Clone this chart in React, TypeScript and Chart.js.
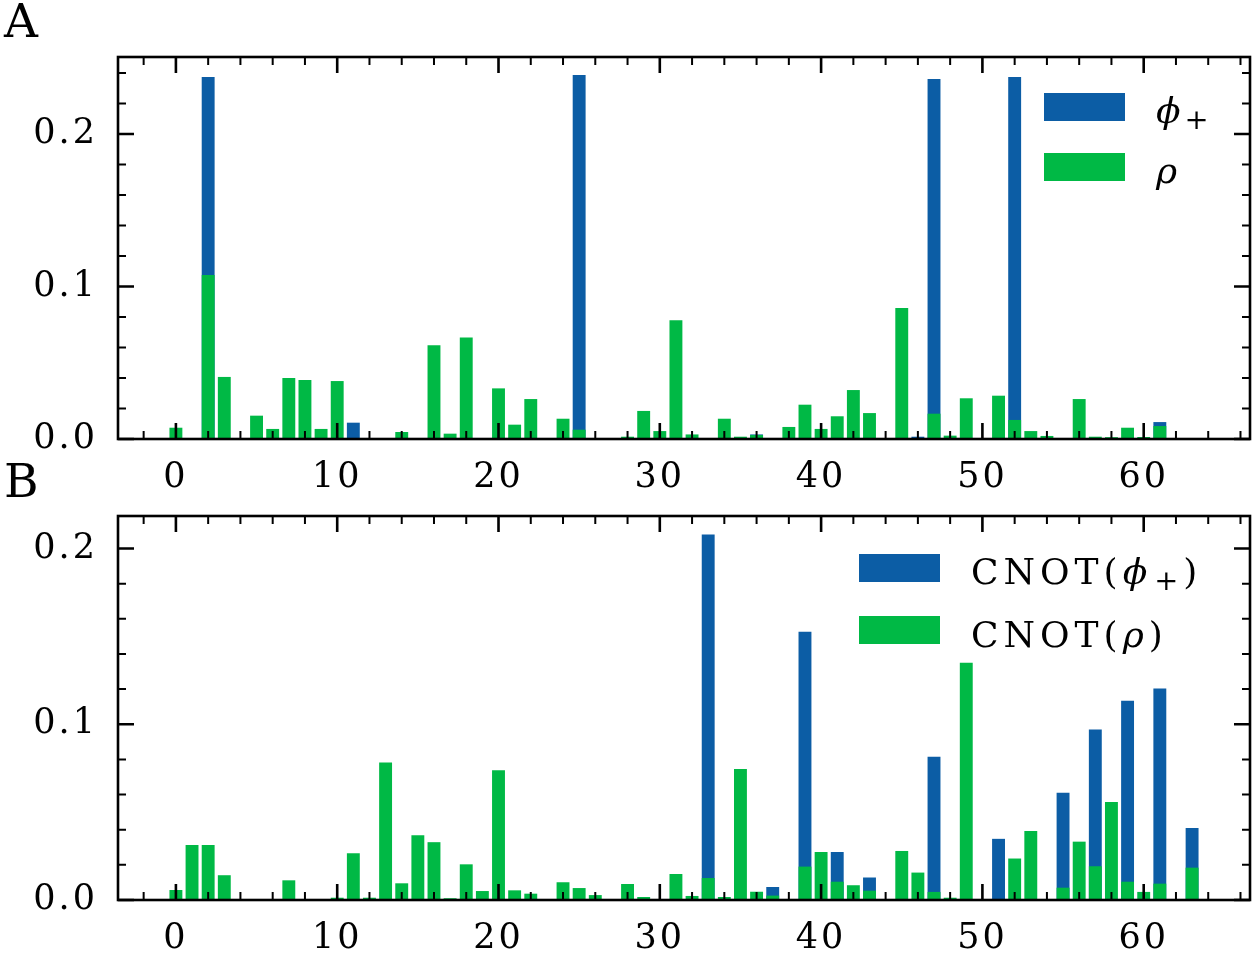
import React, { useEffect, useRef } from "react";
import { Chart, registerables } from "chart.js";

Chart.register(...registerables);

// categories: basis-state index 0..63
const categories: number[] = [
  0, 1, 2, 3, 4, 5, 6, 7, 8, 9, 10, 11, 12, 13, 14, 15,
  16, 17, 18, 19, 20, 21, 22, 23, 24, 25, 26, 27, 28, 29, 30, 31,
  32, 33, 34, 35, 36, 37, 38, 39, 40, 41, 42, 43, 44, 45, 46, 47,
  48, 49, 50, 51, 52, 53, 54, 55, 56, 57, 58, 59, 60, 61, 62, 63,
];

// Panel A
const phiA: number[] = [
  0, 0, 0.2374, 0, 0, 0, 0, 0, 0, 0, 0, 0.0107, 0, 0, 0, 0,
  0, 0, 0, 0, 0, 0, 0, 0, 0, 0.2387, 0, 0, 0, 0, 0, 0,
  0, 0, 0, 0, 0.003, 0, 0, 0, 0, 0, 0, 0, 0, 0, 0.0015, 0.236,
  0, 0, 0, 0, 0.2374, 0, 0, 0, 0, 0, 0, 0, 0, 0.0111, 0, 0,
];
const rhoA: number[] = [
  0.0074, 0, 0.1075, 0.0407, 0, 0.0153, 0.0066, 0.04, 0.0387, 0.0066, 0.038, 0, 0, 0, 0.0046, 0,
  0.0614, 0.0035, 0.0665, 0, 0.0332, 0.0094, 0.0262, 0, 0.0133, 0.0061, 0, 0, 0.0015, 0.0184, 0.0052, 0.0778,
  0.003, 0, 0.0133, 0.0015, 0.0026, 0, 0.0079, 0.0225, 0.0066, 0.0149, 0.0321, 0.017, 0, 0.0859, 0, 0.0166,
  0.0022, 0.0267, 0, 0.0284, 0.0125, 0.0052, 0.002, 0, 0.0262, 0.0015, 0.0012, 0.0074, 0.0013, 0.0085, 0, 0,
];

// Panel B
const phiB: number[] = [
  0, 0, 0, 0, 0, 0, 0, 0, 0, 0, 0, 0, 0, 0, 0, 0,
  0, 0, 0, 0, 0, 0, 0, 0, 0, 0, 0, 0, 0, 0, 0, 0,
  0, 0.208, 0, 0, 0, 0.0074, 0, 0.1527, 0, 0.0273, 0, 0.0128, 0, 0, 0, 0.0815,
  0, 0, 0, 0.0348, 0, 0, 0, 0.061, 0, 0.097, 0, 0.1134, 0, 0.1204, 0, 0.041,
];
const rhoB: number[] = [
  0.0057, 0.0313, 0.0313, 0.0141, 0, 0, 0, 0.0112, 0, 0, 0.0013, 0.0266, 0.0013, 0.0782, 0.0095, 0.0368,
  0.0329, 0.001, 0.0203, 0.0051, 0.0739, 0.0055, 0.0036, 0, 0.0101, 0.0068, 0.0028, 0, 0.0091, 0.0017, 0, 0.0148,
  0.0023, 0.0125, 0.0017, 0.0746, 0.0047, 0.0025, 0, 0.019, 0.0273, 0.0104, 0.0084, 0.0053, 0, 0.0279, 0.0156, 0.0046,
  0.0013, 0.135, 0, 0, 0.0236, 0.0393, 0, 0.007, 0.0332, 0.0192, 0.0558, 0.0104, 0.0046, 0.0093, 0, 0.0184,
];

const xTickLabels: string[] = ["0", "10", "20", "30", "40", "50", "60"];
const yTickLabels: string[] = ["0.0", "0.1", "0.2"];

const BLUE = "#0C5DA5";
const GREEN = "#00B945";
const FONT = "'DejaVu Serif', 'Liberation Serif', serif";

const framePlugin = {
  id: "frame",
  beforeDraw(chart: any) {
    chart.ctx.letterSpacing = "3px";
  },
  afterDraw(chart: any) {
    const { ctx, chartArea: a, scales } = chart;
    ctx.save();
    ctx.letterSpacing = "0px";
    ctx.strokeStyle = "#000";
    ctx.lineCap = "butt";
    const xs = scales.x;
    const ys = scales.y;
    for (const t of xs.ticks) {
      if (t.value < xs.min || t.value > xs.max) continue;
      const px = xs.getPixelForValue(t.value);
      const major = Math.abs(t.value % 10) < 1e-9;
      const len = major ? 16 : 8;
      ctx.lineWidth = major ? 2.6 : 2;
      ctx.beginPath();
      ctx.moveTo(px, a.bottom);
      ctx.lineTo(px, a.bottom - len);
      ctx.moveTo(px, a.top);
      ctx.lineTo(px, a.top + len);
      ctx.stroke();
    }
    for (const t of ys.ticks) {
      if (t.value < ys.min || t.value > ys.max) continue;
      const py = ys.getPixelForValue(t.value);
      const major = Math.abs(t.value * 10 - Math.round(t.value * 10)) < 1e-6;
      const len = major ? 16 : 8;
      ctx.lineWidth = major ? 2.6 : 2;
      ctx.beginPath();
      ctx.moveTo(a.left, py);
      ctx.lineTo(a.left + len, py);
      ctx.moveTo(a.right, py);
      ctx.lineTo(a.right - len, py);
      ctx.stroke();
    }
    ctx.lineWidth = 2.6;
    ctx.strokeRect(a.left, a.top, a.right - a.left, a.bottom - a.top);
    ctx.restore();
    ctx.letterSpacing = "0px";
  },
};

type PanelProps = {
  phi: number[];
  rho: number[];
  yMax: number;
  height: number;
  top: number;
  chartTop: number;
  chartBottom: number;
};

function Panel({ phi, rho, yMax, height, top, chartTop, chartBottom }: PanelProps) {
  const ref = useRef<HTMLCanvasElement | null>(null);
  useEffect(() => {
    if (!ref.current) return;
    const chart = new Chart(ref.current, {
      type: "bar",
      data: {
        datasets: [
          {
            label: "rho",
            data: categories.map((c, i) => ({ x: c, y: rho[i] })),
            backgroundColor: GREEN,
            borderWidth: 0,
            grouped: false,
            order: 1,
            categoryPercentage: 1,
            barPercentage: 0.8,
          } as any,
          {
            label: "phi",
            data: categories.map((c, i) => ({ x: c, y: phi[i] })),
            backgroundColor: BLUE,
            borderWidth: 0,
            grouped: false,
            order: 2,
            categoryPercentage: 1,
            barPercentage: 0.8,
          } as any,
        ],
      },
      options: {
        animation: false,
        responsive: false,
        events: [],
        layout: { padding: { top: chartTop, right: 6, left: 0, bottom: 0 } },
        plugins: { legend: { display: false }, tooltip: { enabled: false } },
        scales: {
          x: {
            type: "linear",
            position: "bottom",
            min: -3.59,
            max: 66.59,
            offset: false,
            grid: { display: false, drawTicks: false, offset: false },
            border: { display: false },
            ticks: {
              stepSize: 2,
              includeBounds: false,
              maxTicksLimit: 200,
              autoSkip: false,
              maxRotation: 0,
              minRotation: 0,
              padding: 21,
              color: "#000",
              font: { family: FONT, size: 35, lineHeight: 1 },
              callback: (v: any) => {
                const n = Number(v);
                const idx = xTickLabels.indexOf(String(Math.round(n)));
                return Math.abs(n % 10) < 1e-9 && idx >= 0 ? xTickLabels[idx] : "";
              },
            },
            afterFit: (s: any) => {
              s.height = height - chartBottom;
              s.paddingLeft = 0;
              s.paddingRight = 0;
            },
          },
          y: {
            type: "linear",
            position: "left",
            min: 0,
            max: yMax,
            grid: { display: false, drawTicks: false },
            border: { display: false },
            ticks: {
              stepSize: 0.02,
              includeBounds: false,
              maxTicksLimit: 200,
              autoSkip: false,
              padding: 20,
              color: "#000",
              font: { family: FONT, size: 35, lineHeight: 1 },
              callback: (v: any) => {
                const n = Number(v);
                const k = Math.round(n * 10);
                return Math.abs(n * 10 - k) < 1e-6 && yTickLabels[k] ? yTickLabels[k] : "";
              },
            },
            afterFit: (s: any) => {
              s.width = 118;
              s.paddingTop = 0;
              s.paddingBottom = 0;
            },
          },
        },
      } as any,
      plugins: [framePlugin],
    });
    return () => chart.destroy();
  }, [phi, rho, yMax, height, chartTop, chartBottom]);
  return (
    <canvas
      ref={ref}
      width={1256}
      height={height}
      style={{ position: "absolute", left: 0, top, width: 1256, height, display: "block" }}
    />
  );
}

const textBase: React.CSSProperties = {
  position: "absolute",
  fontFamily: FONT,
  lineHeight: 1,
  whiteSpace: "nowrap",
  color: "#000",
};

function Swatch({ left, top, color }: { left: number; top: number; color: string }) {
  return <div style={{ position: "absolute", left, top, width: 81, height: 28, background: color }} />;
}

function Sub({ children }: { children: React.ReactNode }) {
  return (
    <span style={{ fontSize: "0.8em", verticalAlign: "-0.2em", fontStyle: "normal", marginLeft: 2 }}>
      {children}
    </span>
  );
}

export default function App() {
  return (
    <div
      style={{
        position: "absolute",
        left: 0,
        top: 0,
        width: 1256,
        height: 960,
        background: "#fff",
        overflow: "hidden",
      }}
    >
      <Panel phi={phiA} rho={rhoA} yMax={0.2505} height={500} top={0} chartTop={57} chartBottom={439} />
      <Panel phi={phiB} rho={rhoB} yMax={0.2185} height={460} top={500} chartTop={16} chartBottom={400} />

      <div style={{ ...textBase, left: 4, top: -3, fontSize: 47 }}>A</div>
      <div style={{ ...textBase, left: 4, top: 457, fontSize: 47 }}>B</div>

      <Swatch left={1044} top={93} color={BLUE} />
      <Swatch left={1044} top={153} color={GREEN} />
      <div style={{ ...textBase, left: 1156, top: 93, fontSize: 36, letterSpacing: "2px" }}>
        <span style={{ fontStyle: "italic" }}>ϕ</span>
        <Sub>+</Sub>
      </div>
      <div style={{ ...textBase, left: 1156, top: 153, fontSize: 36 }}>
        <span style={{ fontStyle: "italic" }}>ρ</span>
      </div>

      <Swatch left={859} top={554} color={BLUE} />
      <Swatch left={859} top={616} color={GREEN} />
      <div style={{ ...textBase, left: 971, top: 554, fontSize: 36, letterSpacing: "5px" }}>
        CNOT(<span style={{ fontStyle: "italic" }}>ϕ</span>
        <Sub>+</Sub>)
      </div>
      <div style={{ ...textBase, left: 971, top: 617, fontSize: 36, letterSpacing: "5px" }}>
        CNOT(<span style={{ fontStyle: "italic" }}>ρ</span>)
      </div>
    </div>
  );
}
